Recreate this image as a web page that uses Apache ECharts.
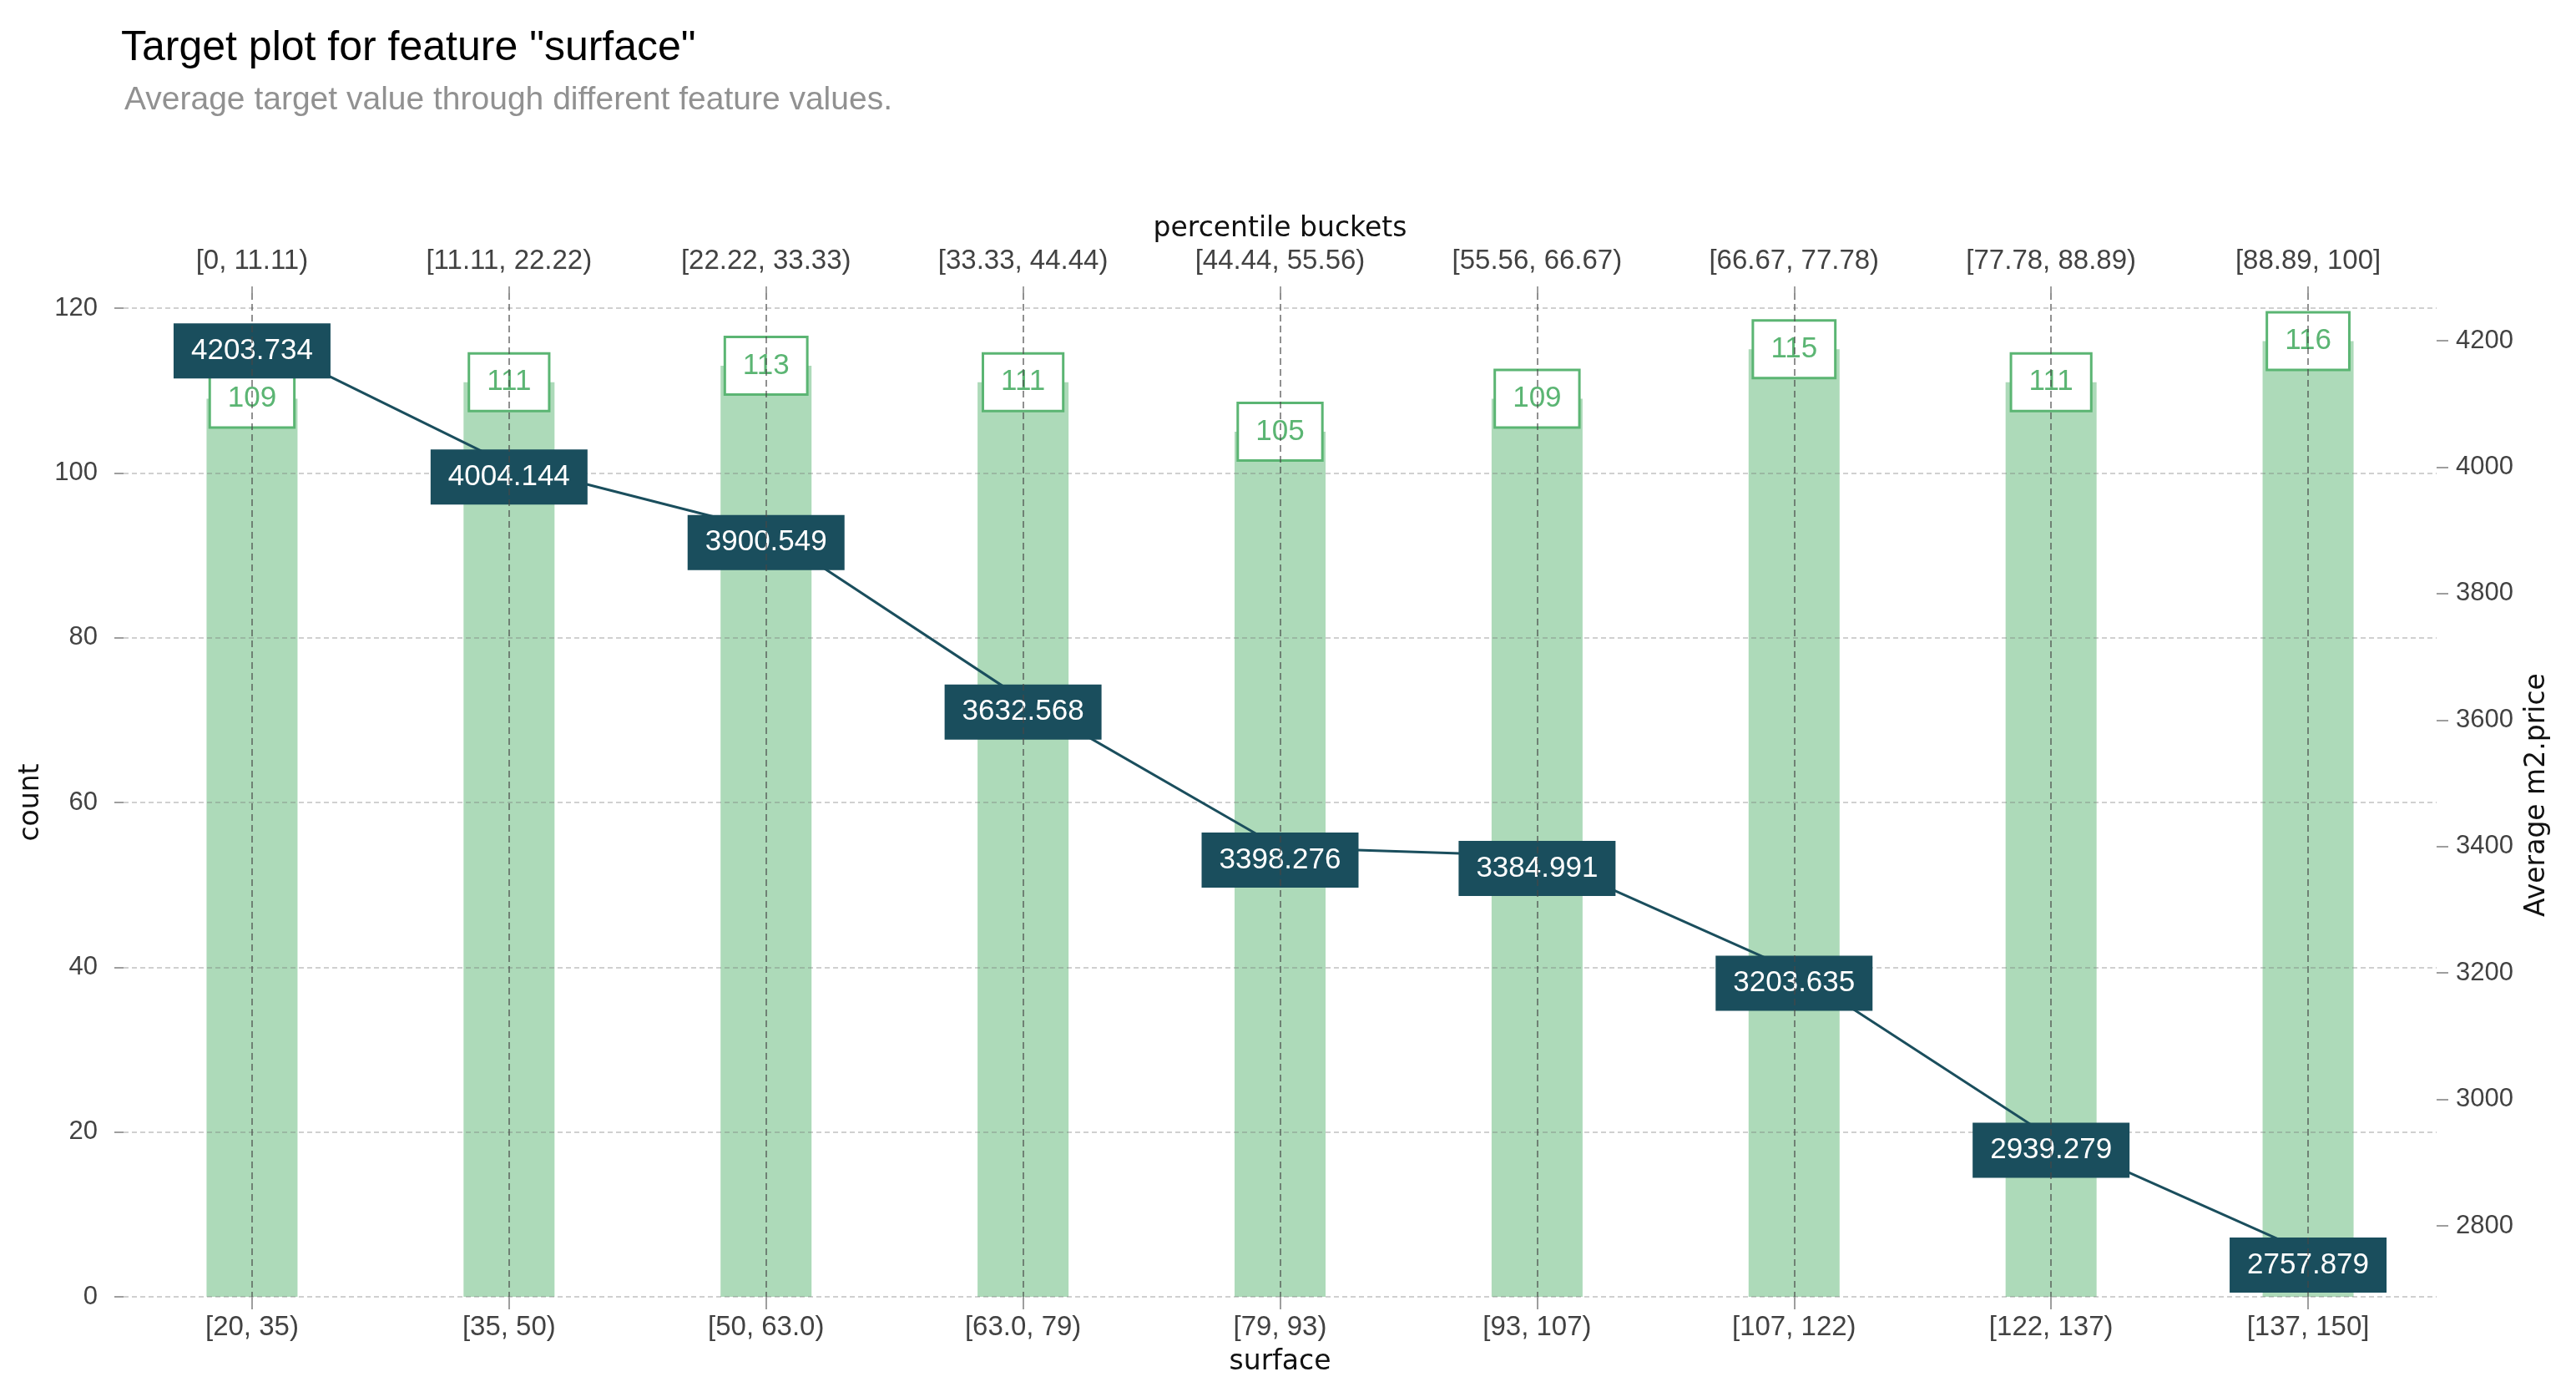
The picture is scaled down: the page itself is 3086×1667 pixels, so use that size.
<!DOCTYPE html>
<html><head><meta charset="utf-8">
<script src="https://cdn.jsdelivr.net/npm/echarts@6/dist/echarts.min.js"></script>
<style>html,body{margin:0;padding:0;background:#fff}#chart{width:3086px;height:1667px}</style>
</head><body><div id="chart"></div>
<script>
const categories = ['[20, 35)', '[35, 50)', '[50, 63.0)', '[63.0, 79)', '[79, 93)', '[93, 107)', '[107, 122)', '[122, 137)', '[137, 150]'];
const percentileBuckets = ['[0, 11.11)', '[11.11, 22.22)', '[22.22, 33.33)', '[33.33, 44.44)', '[44.44, 55.56)', '[55.56, 66.67)', '[66.67, 77.78)', '[77.78, 88.89)', '[88.89, 100]'];
const counts = [109, 111, 113, 111, 105, 109, 115, 111, 116];
const avgPrice = [4203.734, 4004.144, 3900.549, 3632.568, 3398.276, 3384.991, 3203.635, 2939.279, 2757.879];
const countAxis = { min: 0, max: 120, interval: 20 };
const priceAxis = { min: 2800, max: 4200, interval: 200 };

const BAR = '#5BB573', BAR_FILL = '#ADDAB9', LINE = '#1A4E5D';
const TICK_FONT = 'Liberation Sans', NAME_FONT = 'DejaVu Sans';
const L = 148, R = 167;

const chart = echarts.init(document.getElementById('chart'), null, { renderer: 'canvas' });
const hiddenCat = (g) => ({ gridIndex: g, type: 'category', data: categories, show: false, boundaryGap: true });

chart.setOption({
  animation: false,
  backgroundColor: '#ffffff',
  title: [
    { text: 'Target plot for feature "surface"', left: 145, top: 33, padding: 0,
      textStyle: { fontFamily: TICK_FONT, fontSize: 50, fontWeight: 'normal', color: '#000000' } },
    { text: 'Average target value through different feature values.', left: 149, top: 101, padding: 0,
      textStyle: { fontFamily: TICK_FONT, fontSize: 39, fontWeight: 'normal', color: '#919191' } }
  ],
  grid: [
    { left: L, right: R, top: 351, bottom: 114 },
    { left: L, right: R, top: 369, bottom: 114 },
    { left: L, right: R, top: 408, bottom: 199 }
  ],
  xAxis: [
    { gridIndex: 0, type: 'category', data: categories, position: 'bottom', boundaryGap: true, z: 10,
      axisLine: { show: false },
      axisTick: { show: true, alignWithLabel: true, length: 15, lineStyle: { color: '#9E9E9E', width: 2 } },
      axisLabel: { margin: 20, fontSize: 33, color: '#424242', fontFamily: TICK_FONT },
      splitLine: { show: true, alignWithLabel: true, lineStyle: { color: 'rgba(70,70,70,0.6)', type: [8, 5], width: 2 } },
      name: 'surface', nameLocation: 'middle', nameGap: 62,
      nameTextStyle: { fontFamily: NAME_FONT, fontSize: 33, color: '#111111' } },
    { gridIndex: 0, type: 'category', data: percentileBuckets, position: 'top', boundaryGap: true, z: 10,
      axisLine: { show: false },
      axisTick: { show: true, alignWithLabel: true, length: 8, lineStyle: { color: '#9E9E9E', width: 2 } },
      axisLabel: { margin: 22, fontSize: 33, color: '#424242', fontFamily: TICK_FONT },
      splitLine: { show: false },
      name: 'percentile buckets', nameLocation: 'middle', nameGap: 60,
      nameTextStyle: { fontFamily: NAME_FONT, fontSize: 33, color: '#111111' } },
    hiddenCat(1),
    hiddenCat(2)
  ],
  yAxis: [
    { gridIndex: 0, type: 'value', min: 0, max: 1, position: 'right',
      axisLine: { show: false }, axisTick: { show: false }, axisLabel: { show: false }, splitLine: { show: false },
      name: 'Average m2.price', nameLocation: 'middle', nameGap: 104, nameRotate: 90,
      nameTextStyle: { fontFamily: NAME_FONT, fontSize: 33, color: '#111111' } },
    { gridIndex: 1, type: 'value', position: 'left', min: countAxis.min, max: countAxis.max, interval: countAxis.interval, z: 4,
      axisLine: { show: false },
      axisTick: { show: true, length: 11, lineStyle: { color: '#9E9E9E', width: 2 } },
      axisLabel: { margin: 31, fontSize: 31, color: '#424242', fontFamily: TICK_FONT },
      splitLine: { show: true, lineStyle: { color: 'rgba(120,120,120,0.35)', type: [6, 4], width: 2 } },
      name: 'count', nameLocation: 'middle', nameGap: 94, nameRotate: 90,
      nameTextStyle: { fontFamily: NAME_FONT, fontSize: 33, color: '#111111' } },
    { gridIndex: 2, type: 'value', position: 'right', min: priceAxis.min, max: priceAxis.max, interval: priceAxis.interval,
      axisLine: { show: false },
      axisTick: { show: true, length: 14, lineStyle: { color: '#9E9E9E', width: 2 } },
      axisLabel: { margin: 23, fontSize: 31, color: '#424242', fontFamily: TICK_FONT, formatter: (v) => String(v) },
      splitLine: { show: false } }
  ],
  series: [
    { type: 'bar', xAxisIndex: 2, yAxisIndex: 1, data: counts, barWidth: 109, z: 2,
      itemStyle: { color: BAR_FILL },
      label: { show: true, position: 'top', distance: -33, formatter: '{c}',
        color: BAR, fontSize: 35, fontFamily: TICK_FONT, lineHeight: 40,
        backgroundColor: '#ffffff', borderColor: BAR, borderWidth: 3, padding: [13, 20] } },
    { type: 'line', xAxisIndex: 3, yAxisIndex: 2, data: avgPrice, clip: false, z: 5,
      symbol: 'circle', symbolSize: 2, showSymbol: true,
      lineStyle: { color: LINE, width: 3 }, itemStyle: { color: LINE },
      label: { show: true, position: 'inside', offset: [0, 15],
        formatter: (p) => p.value.toFixed(3),
        color: '#ffffff', fontSize: 35, fontFamily: TICK_FONT, lineHeight: 40,
        backgroundColor: LINE, padding: [13, 21] } }
  ]
});
</script>
</body></html>
